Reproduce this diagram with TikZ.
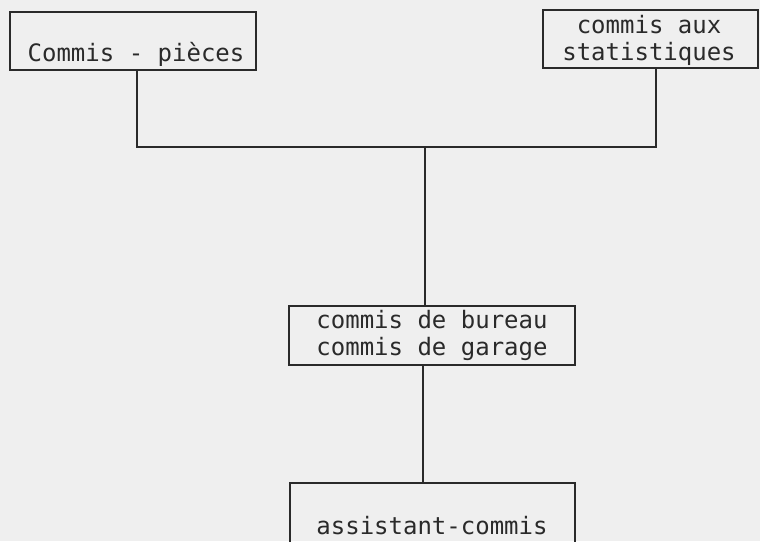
\documentclass[tikz,border=0pt]{standalone}
\usepackage{fontspec}
\setmonofont{DejaVu Sans Mono}
\definecolor{bg}{HTML}{EFEFEF}
\definecolor{ink}{HTML}{2A2A2A}
\begin{document}
\begin{tikzpicture}[x=1pt,y=-1pt,
  box/.style={draw=ink, line width=1.6pt, inner sep=0pt, rectangle},
  lbl/.style={text=ink, font=\ttfamily\fontsize{24}{27}\selectfont, align=center, inner sep=0pt},
  wire/.style={draw=ink, line width=1.6pt}]
\fill[bg] (0,0) rectangle (760,541);
\useasboundingbox (0,0) rectangle (760,541);
% boxes
\node[box, minimum width=246pt, minimum height=58pt] (b1) at (133,41) {};
\node[lbl] (t1) at (136,54) {Commis - pièces};
\node[box, minimum width=215pt, minimum height=58pt] (b2) at (650.5,39) {};
\node[lbl] (t2) at (649,40) {commis aux\\statistiques};
\node[box, minimum width=286pt, minimum height=59pt] (b3) at (432,335.5) {};
\node[lbl] (t3) at (432,335) {commis de bureau\\commis de garage};
\coordinate (b4tl) at (290,483);
\coordinate (b4tr) at (575,483);
\draw[wire] (290,560) -- (b4tl) -- (b4tr) -- (575,560);
\node[lbl] (t4) at (432,526) {assistant-commis};
% connectors
\coordinate (j1) at (137,147);
\coordinate (j2) at (656,147);
\coordinate (jm) at (425,147);
\draw[wire] (b1.south -| j1) -- (j1) -- (j2) -- (b2.south -| j2);
\draw[wire] (jm) -- (b3.north -| jm);
\draw[wire] (b3.south -| 423,0) -- (b4tl -| 423,0);
\end{tikzpicture}
\end{document}
